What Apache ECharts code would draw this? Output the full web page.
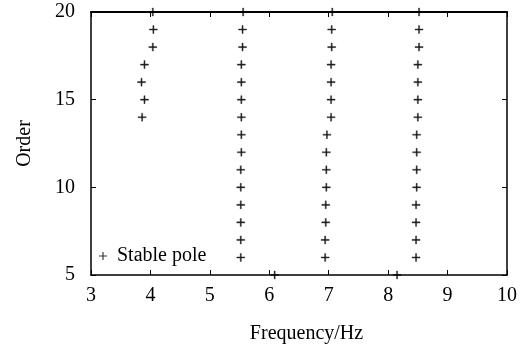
<html lang="en">
<head>
    <meta charset="UTF-8">
    <title>Stable pole diagram</title>
    <script type="text/javascript" src="https://cdn.jsdelivr.net/npm/echarts@6/dist/echarts.min.js"></script>
</head>
<style>
    body { margin: 0; background: #fff; }
    #container { width: 524px; height: 349px; }
</style>
<body>
<div id="container"></div>
<script>
    // pole groups: model order and identified frequency (Hz)
    var group1Orders = [14, 15, 16, 17, 18, 19, 20];
    var group1Freqs = [3.86, 3.90, 3.85, 3.90, 4.04, 4.05, 4.04];

    var group2Orders = [6, 7, 8, 9, 10, 11, 12, 13, 14, 15, 16, 17, 18, 19, 20];
    var group2Freqs = [5.52, 5.52, 5.52, 5.52, 5.52, 5.52, 5.53, 5.53, 5.53, 5.53, 5.53, 5.53, 5.55, 5.55, 5.56];

    var group3Orders = [6, 7, 8, 9, 10, 11, 12, 13, 14, 15, 16, 17, 18, 19, 20];
    var group3Freqs = [6.94, 6.94, 6.95, 6.95, 6.96, 6.96, 6.96, 6.97, 7.04, 7.04, 7.04, 7.04, 7.05, 7.05, 7.06];

    var group4Orders = [6, 7, 8, 9, 10, 11, 12, 13, 14, 15, 16, 17, 18, 19, 20];
    var group4Freqs = [8.47, 8.47, 8.47, 8.47, 8.48, 8.48, 8.48, 8.48, 8.50, 8.50, 8.50, 8.50, 8.52, 8.52, 8.52];

    // stray poles at the lowest order
    var group5Orders = [5, 5];
    var group5Freqs = [6.09, 8.15];

    var xTicks = [3, 10, 1];
    var yTicks = [5, 20, 5];

    var groups = [
        [group1Freqs, group1Orders],
        [group2Freqs, group2Orders],
        [group3Freqs, group3Orders],
        [group4Freqs, group4Orders],
        [group5Freqs, group5Orders]
    ];
    var points = [];
    groups.forEach(function (g) {
        for (var i = 0; i < g[0].length; i++) {
            points.push([g[0][i], g[1][i]]);
        }
    });

    var plus = 'path://M3,0h1v7h-1z M0,3h7v1h-7z';
    var font = 'Liberation Serif';

    var chart = echarts.init(document.getElementById('container'));

    var baseAxis = {
        type: 'value',
        axisLine: { show: true, lineStyle: { color: '#000', width: 1.5 } },
        axisTick: { show: true, inside: true, length: 5, lineStyle: { color: '#000', width: 1 } },
        splitLine: { show: false }
    };

    var option = {
        animation: false,
        backgroundColor: '#fff',
        grid: { left: 91, right: 17, top: 12, bottom: 72 },
        legend: {
            left: 94,
            top: 241,
            itemWidth: 8,
            itemHeight: 8,
            itemGap: 0,
            icon: plus,
            itemStyle: { color: '#000', borderWidth: 0 },
            textStyle: { fontFamily: font, fontSize: 20, color: '#000', padding: [0, 0, 0, 5] },
            data: ['Stable pole']
        },
        xAxis: [
            Object.assign({}, baseAxis, {
                min: xTicks[0], max: xTicks[1], interval: xTicks[2],
                position: 'bottom',
                name: 'Frequency/Hz',
                nameLocation: 'middle',
                nameGap: 49,
                nameTextStyle: { fontFamily: font, fontSize: 20, color: '#000', padding: [0, 0, 0, 15] },
                axisLabel: { fontFamily: font, fontSize: 20, color: '#000', margin: 11 }
            }),
            Object.assign({}, baseAxis, {
                min: xTicks[0], max: xTicks[1], interval: xTicks[2],
                position: 'top',
                axisLine: { show: true, lineStyle: { color: '#000', width: 2 } },
                axisLabel: { show: false }
            })
        ],
        yAxis: [
            Object.assign({}, baseAxis, {
                min: yTicks[0], max: yTicks[1], interval: yTicks[2],
                position: 'left',
                name: 'Order',
                nameLocation: 'middle',
                nameGap: 56,
                nameTextStyle: { fontFamily: font, fontSize: 20, color: '#000' },
                axisLabel: { fontFamily: font, fontSize: 20, color: '#000', margin: 16 }
            }),
            Object.assign({}, baseAxis, {
                min: yTicks[0], max: yTicks[1], interval: yTicks[2],
                position: 'right',
                axisLabel: { show: false }
            })
        ],
        series: [
            {
                name: 'Stable pole',
                type: 'scatter',
                symbol: plus,
                symbolSize: 8,
                clip: false,
                itemStyle: { color: '#000', borderColor: '#000', borderWidth: 0.4 },
                data: points
            }
        ]
    };

    chart.setOption(option);
</script>
</body>
</html>
